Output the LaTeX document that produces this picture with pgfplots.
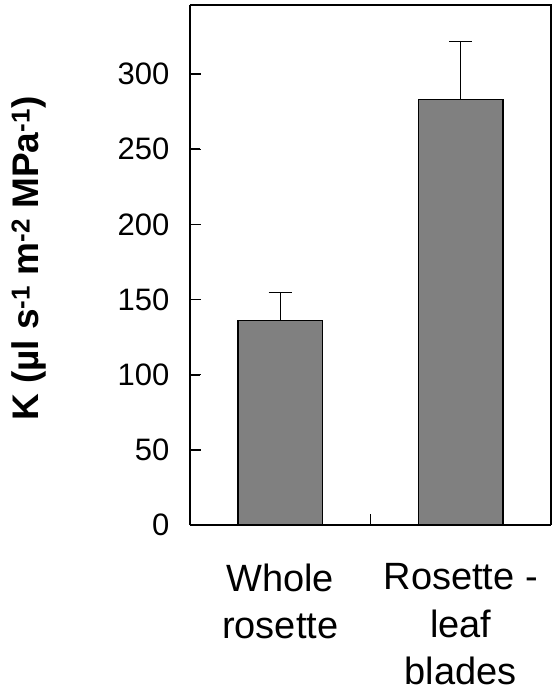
\documentclass[border=0pt]{standalone}
\usepackage{fontspec}
\setmainfont{Liberation Sans}
\usepackage{pgfplots}
\pgfplotsset{compat=1.18}
\usetikzlibrary{calc}
\definecolor{bargray}{RGB}{128,128,128}
\newcommand{\tl}{\fontsize{31}{37}\selectfont}
\begin{document}
\begin{tikzpicture}
\begin{axis}[
    scale only axis,
    width=361pt, height=520pt,
    xmin=0.5, xmax=2.5,
    ymin=0, ymax=346,
    axis x line*=bottom,
    axis y line*=left,
    axis line style={line width=1.3pt, -},
    tick align=inside,
    tick style={black, line width=1.3pt},
    major tick length=11pt,
    ytick={0,50,100,150,200,250,300},
    yticklabels={{\tl 0},{\tl 50},{\tl 100},{\tl 150},{\tl 200},{\tl 250},{\tl 300}},
    xtick={1,1.5,2},
    xticklabels={Whole\\rosette, , Rosette -\\leaf\\blades},
    xticklabel style={font=\fontsize{38}{47.5}\selectfont, align=center, yshift=-35pt},
    yticklabel style={font=\tl, xshift=-17pt},
    ylabel={\textbf{K (µl s\textsuperscript{-1} m\textsuperscript{-2} MPa\textsuperscript{-1})}},
    ylabel style={font=\fontsize{37}{44}\selectfont, at={(axis description cs:-0.446,0.512)}, anchor=center},
    after end axis/.code={
        \draw[line width=1.3pt] (rel axis cs:0,1) -- (rel axis cs:1,1) -- (rel axis cs:1,0);
        \draw[line width=1.6pt, black] (rel axis cs:0,0.1445) -- ++(10pt,0pt);
        \draw[line width=1.6pt, black] (rel axis cs:0,0.2890) -- ++(10pt,0pt);
        \draw[line width=1.6pt, black] (rel axis cs:0,0.4335) -- ++(10pt,0pt);
        \draw[line width=1.6pt, black] (rel axis cs:0,0.5780) -- ++(10pt,0pt);
        \draw[line width=1.6pt, black] (rel axis cs:0,0.7225) -- ++(10pt,0pt);
        \draw[line width=1.6pt, black] (rel axis cs:0,0.8671) -- ++(10pt,0pt);
    },
]
\addplot[ybar, bar width=0.468, bar shift=0pt, fill=bargray, draw=black, line width=1.3pt,
    error bars/.cd, y dir=plus, y explicit,
    error bar style={line width=1.3pt, black},
    error mark options={rotate=90, mark size=11.5pt, line width=1.3pt, black}]
    coordinates {
    (1, 136) +- (0, 18.5)
    (2, 283) +- (0, 38.5)
};
\end{axis}
\path[use as bounding box] ($(current axis.south west)+(-190pt,-171pt)$) rectangle ($(current axis.north east)+(1pt,5pt)$);
\end{tikzpicture}
\end{document}
